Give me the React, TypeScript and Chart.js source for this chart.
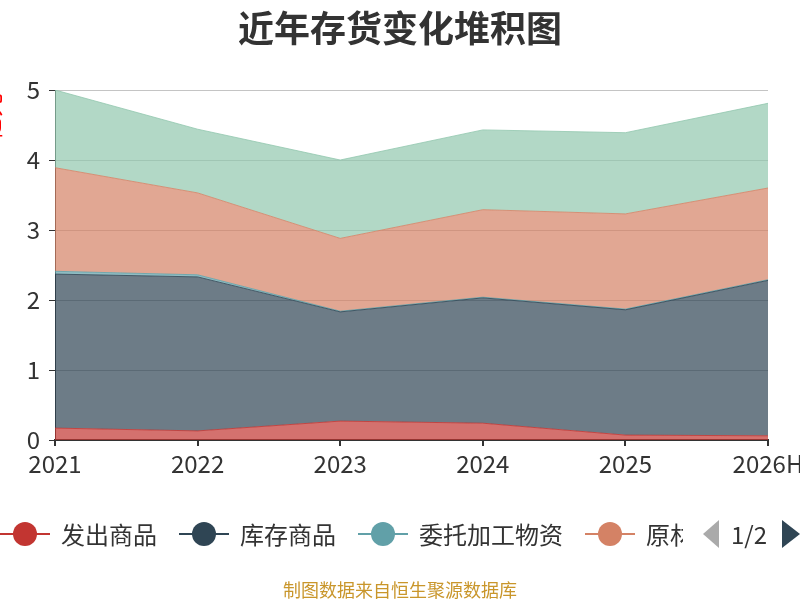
import React, { useRef, useEffect } from "react";
import { Chart, registerables } from "chart.js";

Chart.register(...registerables);

// years on the x axis
const years = ["2021", "2022", "2023", "2024", "2025", "2026H"];

// stacked series, bottom to top (亿元)
const shippedGoods = [0.17, 0.13, 0.27, 0.24, 0.07, 0.06];
const stockGoods = [2.2, 2.2, 1.56, 1.79, 1.79, 2.22];
const consignedMaterials = [0.04, 0.03, 0.01, 0.01, 0.01, 0.01];
const rawMaterials = [1.48, 1.17, 1.04, 1.25, 1.36, 1.31];
const workInProgress = [1.11, 0.91, 1.12, 1.14, 1.16, 1.21];

const seriesNames = ["发出商品", "库存商品", "委托加工物资", "原材料", "在产品"];
const seriesColors = ["#c23531", "#2f4554", "#61a0a8", "#d48265", "#91c7ae"];

const yTicks = [0, 1, 2, 3, 4, 5];

const FONT = "'Noto Sans CJK SC', 'Noto Sans', sans-serif";

const hexA = (hex: string, a: number) => {
  const n = parseInt(hex.slice(1), 16);
  return `rgba(${(n >> 16) & 255},${(n >> 8) & 255},${n & 255},${a})`;
};

// clipped red axis name on the far left
const axisNamePlugin = {
  id: "axisName",
  afterDraw(chart: Chart) {
    const ctx = chart.ctx;
    ctx.save();
    ctx.translate(-9, 117);
    ctx.rotate(-Math.PI / 2);
    ctx.fillStyle = "#ff0000";
    ctx.font = `24px ${FONT}`;
    ctx.textAlign = "center";
    ctx.textBaseline = "middle";
    ctx.fillText("亿元", 0, 0);
    ctx.restore();
  },
};

const LegendIcon = ({ color }: { color: string }) => (
  <svg width="50" height="26" style={{ flex: "none" }}>
    <line x1="0" y1="13" x2="50" y2="13" stroke={color} strokeWidth="2" />
    <circle cx="25" cy="13" r="12" fill={color} />
  </svg>
);

const App = () => {
  const canvasRef = useRef<HTMLCanvasElement>(null);
  const chartRef = useRef<Chart | null>(null);

  useEffect(() => {
    const canvas = canvasRef.current;
    if (!canvas) return;

    if (chartRef.current) chartRef.current.destroy();

    const values = [shippedGoods, stockGoods, consignedMaterials, rawMaterials, workInProgress];

    chartRef.current = new Chart(canvas, {
      type: "line",
      data: {
        labels: years,
        datasets: values.map((data, i) => ({
          label: seriesNames[i],
          data,
          borderColor: hexA(seriesColors[i], 0.8),
          borderWidth: 1,
          backgroundColor: hexA(seriesColors[i], 0.7),
          fill: i === 0 ? "origin" : "-1",
          pointRadius: 0,
          tension: 0,
        })),
      },
      options: {
        responsive: false,
        animation: false,
        layout: { padding: { top: 90, right: 32, left: 0, bottom: 0 } },
        plugins: {
          legend: { display: false },
          tooltip: { enabled: false },
        },
        scales: {
          x: {
            offset: false,
            grid: {
              drawOnChartArea: false,
              drawTicks: true,
              tickLength: 6,
              tickColor: "#333",
              lineWidth: 2,
            },
            border: { display: true, color: "#333", width: 2 },
            ticks: {
              color: "#333",
              font: { size: 24, family: FONT },
              padding: 3,
              maxRotation: 0,
              autoSkip: false,
            },
            afterFit: (scale: any) => {
              scale.height = 160;
              scale.paddingRight = 0;
              scale.paddingLeft = 0;
            },
          },
          y: {
            stacked: true,
            min: 0,
            max: 5,
            afterBuildTicks: (scale: any) => {
              scale.ticks = yTicks.map((v) => ({ value: v }));
            },
            grid: {
              color: "#c4c4c4",
              tickColor: "#333",
              tickLength: 6,
              lineWidth: 1,
            },
            border: { display: true, color: "#333", width: 1 },
            ticks: {
              color: "#333",
              font: { size: 24, family: FONT },
              padding: 9,
            },
            afterFit: (scale: any) => {
              scale.width = 55;
            },
          },
        },
      },
      plugins: [axisNamePlugin],
    });

    return () => {
      chartRef.current?.destroy();
      chartRef.current = null;
    };
  }, []);

  return (
    <div
      style={{
        position: "absolute",
        left: 0,
        top: 0,
        width: 800,
        height: 600,
        background: "#fff",
        fontFamily: FONT,
        overflow: "hidden",
      }}
    >
      <canvas ref={canvasRef} width={800} height={600} style={{ position: "absolute", left: 0, top: 0 }} />
      <div
        style={{
          position: "absolute",
          top: 4,
          left: 0,
          width: 800,
          textAlign: "center",
          fontSize: 36,
          fontWeight: "bold",
          color: "#333",
          lineHeight: "44px",
        }}
      >
        近年存货变化堆积图
      </div>
      <div
        style={{
          position: "absolute",
          top: 518,
          left: 0,
          width: 683,
          height: 32,
          overflow: "hidden",
          display: "flex",
          alignItems: "center",
          whiteSpace: "nowrap",
        }}
      >
        {seriesNames.map((name, i) => (
          <div key={name} style={{ display: "flex", alignItems: "center", marginRight: 22, flex: "none" }}>
            <LegendIcon color={seriesColors[i]} />
            <span style={{ marginLeft: 11, fontSize: 24, color: "#333", lineHeight: "32px" }}>{name}</span>
          </div>
        ))}
      </div>
      <svg width="100" height="32" style={{ position: "absolute", left: 700, top: 518 }}>
        <polygon points="19,2 19,30 3,16" fill="#aaa" />
        <polygon points="82,2 82,30 100,16" fill="#2f4554" />
      </svg>
      <div
        style={{
          position: "absolute",
          left: 731,
          top: 518,
          fontSize: 24,
          lineHeight: "32px",
          color: "#333",
        }}
      >
        1/2
      </div>
      <div
        style={{
          position: "absolute",
          top: 577,
          left: 0,
          width: 800,
          textAlign: "center",
          fontSize: 18,
          color: "#c9962b",
          lineHeight: "24px",
        }}
      >
        制图数据来自恒生聚源数据库
      </div>
    </div>
  );
};

export default App;
